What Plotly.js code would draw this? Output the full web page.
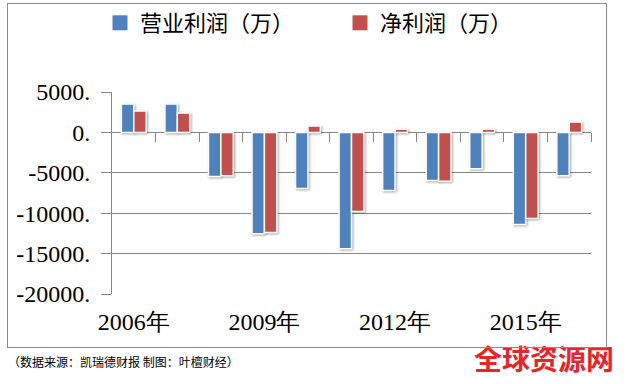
<!DOCTYPE html>
<html>
<head>
<meta charset="utf-8">
<script src="https://cdn.plot.ly/plotly-3.0.1.min.js"></script>
<style>
  html, body { margin: 0; padding: 0; background: #fff; }
  #wrap { position: relative; width: 626px; height: 384px; }
  #chart { width: 626px; height: 384px; }
  #frame { position: absolute; left: 7px; top: 3px; width: 598px; height: 343px;
           border: 1px solid #8a8a8a; pointer-events: none; }
  .barlayer .point path { filter: drop-shadow(1.5px 1.5px 1px rgba(0,0,0,0.35)); }
</style>
</head>
<body>
<div id="wrap">
  <div id="chart"></div>
  <div id="frame"></div>
</div>
<script>
// ---- data ----
const years = ['2006年','2007年','2008年','2009年','2010年','2011年','2012年','2013年','2014年','2015年','2016年'];
const opProfit  = [3500, 3500, -5450, -12550, -6950, -14400, -7200, -5950, -4500, -11400, -5350];
const netProfit = [2650, 2400, -5350, -12400,   800,  -9800,   400, -6050,   400, -10650,  1300];
const seriesNames = ['营业利润（万）', '净利润（万）'];
const seriesColors = ['#4F81BD', '#C0504D'];
const yTickVals = [5000, 0, -5000, -10000, -15000, -20000];
const yTickText = ['5000.', '0.', '-5000.', '-10000.', '-15000.', '-20000.'];
const xTickLabels = years.filter((_, i) => i % 3 === 0);
const sourceNote = '（数据来源：凯瑞德财报 制图：叶檀财经）';
const watermark = '全球资源网';

// ---- layout helpers ----
const W = 626, H = 384;
const M = {l: 112, r: 35, t: 92, b: 90, autoexpand: false};
const pw = W - M.l - M.r, ph = H - M.t - M.b;
const px = x => (x - M.l) / pw;
const py = y => (H - M.b - y) / ph;

const grid = '#878787';
const serif = '"Liberation Serif", "Times New Roman", serif';
const cjk = '"Noto Sans CJK SC", "Noto Sans", sans-serif';

const series = [opProfit, netProfit];
const traces = [];
series.forEach((vals, k) => {
  traces.push({type: 'bar', name: seriesNames[k], x: years, y: vals, showlegend: false,
    marker: {color: seriesColors[k], line: {color: '#ffffff', width: 1.5}}});
});
// legend entries (larger square keys like the original)
series.forEach((vals, k) => {
  traces.push({type: 'scatter', mode: 'markers', name: seriesNames[k], x: [null], y: [null],
    marker: {symbol: 'square', size: 15, color: seriesColors[k], line: {width: 0}}, hoverinfo: 'skip'});
});
// helper (empty) trace to register the zero-line tick axis
traces.push({type: 'scatter', x: [], y: [], xaxis: 'x2', yaxis: 'y', showlegend: false, hoverinfo: 'skip'});

const layout = {
  width: W, height: H,
  margin: M,
  paper_bgcolor: '#ffffff', plot_bgcolor: '#ffffff',
  barmode: 'group', bargap: 0.43, bargroupgap: 0,
  showlegend: true,
  legend: {orientation: 'h', x: px(100), xanchor: 'left', y: py(2), yanchor: 'top',
           font: {family: cjk, size: 22, color: '#000'}, entrywidth: 195, entrywidthmode: 'pixels',
           bgcolor: 'rgba(0,0,0,0)', itemwidth: 30},
  xaxis: {type: 'category', tickvals: xTickLabels, showgrid: false, showline: false, zeroline: false,
          ticks: '', tickfont: {family: serif, size: 24, color: '#000'}, ticklabelstandoff: 11,
          range: [-0.5, years.length - 0.5]},
  xaxis2: {overlaying: 'x', anchor: 'free', position: py(132.3), type: 'linear',
           range: [-0.5, years.length - 0.5],
           tickvals: years.map((_, i) => i + 0.5), ticks: 'outside', ticklen: 9, tickwidth: 1,
           tickcolor: grid, showticklabels: false, showgrid: false, showline: false, zeroline: false},
  yaxis: {range: [-20000, 5000], tickvals: yTickVals, ticktext: yTickText,
          showgrid: true, gridcolor: grid, gridwidth: 1,
          zeroline: true, zerolinecolor: grid, zerolinewidth: 1,
          showline: true, linecolor: grid, linewidth: 1,
          ticks: 'outside', ticklen: 10, tickcolor: grid,
          tickfont: {family: serif, size: 24, color: '#000'}, ticklabelstandoff: 6},
  annotations: [
    {text: sourceNote, xref: 'paper', yref: 'paper', x: px(6), y: py(361), xanchor: 'left', yanchor: 'middle',
     showarrow: false, font: {family: cjk, size: 12, color: '#000'}},
    {text: '<b>' + watermark + '</b>', xref: 'paper', yref: 'paper', x: px(472), y: py(358), xanchor: 'left', yanchor: 'middle',
     showarrow: false, font: {family: cjk, size: 28, color: '#E5262C'}}
  ]
};

Plotly.newPlot('chart', traces, layout, {displayModeBar: false, staticPlot: true});
</script>
</body>
</html>
